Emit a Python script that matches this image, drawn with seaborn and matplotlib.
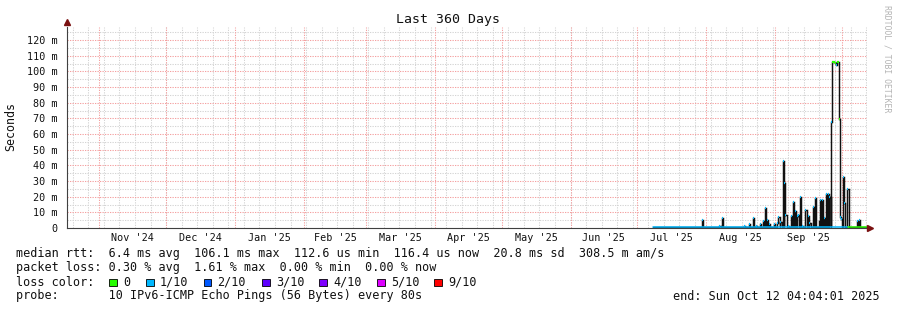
import numpy as np
import pandas as pd
import matplotlib
matplotlib.use("Agg")
import matplotlib.pyplot as plt
import matplotlib.dates as mdates
from matplotlib.patches import Rectangle
import seaborn as sns

# ---------------- data ----------------
period_start = "2024-10-17 04:04:01"
period_end = "2025-10-12 04:04:01"
data_start = "2025-07-08 04:00"
baseline_rtt_ms = 0.35

spike_times = [
    "2025-07-30 01:30", "2025-08-06 22:00", "2025-08-08 02:00", "2025-08-18 02:00",
    "2025-08-20 08:00", "2025-08-22 00:00", "2025-08-23 12:00", "2025-08-25 07:00",
    "2025-08-26 12:00", "2025-08-27 10:00", "2025-08-28 11:00", "2025-08-29 08:00",
    "2025-08-31 14:00", "2025-09-01 23:00", "2025-09-02 12:00", "2025-09-03 10:00",
    "2025-09-04 12:00", "2025-09-05 05:00", "2025-09-05 15:00", "2025-09-06 17:00",
    "2025-09-08 06:00", "2025-09-09 00:00", "2025-09-10 01:00", "2025-09-10 19:00",
    "2025-09-11 07:00", "2025-09-12 06:00", "2025-09-13 05:00", "2025-09-14 17:00",
    "2025-09-15 19:00", "2025-09-16 12:00", "2025-09-18 01:00", "2025-09-19 02:00",
    "2025-09-20 14:00", "2025-09-21 07:00", "2025-09-22 05:00", "2025-09-23 00:00",
    "2025-09-24 00:00", "2025-09-24 19:00", "2025-09-25 12:00", "2025-09-26 10:00",
    "2025-09-26 16:00", "2025-09-27 04:00", "2025-09-27 16:00", "2025-09-28 04:00",
    "2025-09-28 14:00", "2025-09-28 22:00", "2025-09-29 07:00", "2025-09-29 15:00",
    "2025-09-30 02:00", "2025-09-30 14:00", "2025-10-01 13:00", "2025-10-02 03:00",
    "2025-10-03 12:00", "2025-10-07 23:00", "2025-10-08 20:00",
]
spike_rtt_ms = [
    5.0, 1.0, 6.6, 1.2,
    2.8, 6.2, 1.5, 2.5,
    4.6, 12.8, 5.0, 2.6,
    2.6, 3.5, 7.1, 4.0,
    42.5, 28.5, 8.3, 1.0,
    7.4, 16.8, 10.9, 7.4,
    8.3, 20.0, 1.5, 11.5,
    7.4, 3.5, 13.6, 19.4,
    4.2, 17.9, 17.9, 6.2,
    22.0, 22.0, 20.0, 67.4,
    106.0, 106.0, 106.0, 105.5,
    104.0, 106.0, 106.0, 69.6,
    7.2, 6.0, 32.8, 16.0,
    24.7, 4.5, 5.3,
]
spike_loss = [
    1, 1, 1, 1,
    1, 1, 1, 1,
    1, 1, 1, 1,
    1, 1, 1, 1,
    1, 1, 1, 1,
    1, 1, 1, 1,
    1, 1, 1, 1,
    1, 1, 1, 1,
    1, 1, 1, 1,
    1, 1, 1, 1,
    0, 0, 0, 0,
    1, 0, 0, 0,
    1, 1, 1, 1,
    1, 1, 1,
]
baseline_seg_starts = ["2025-07-08 04:00", "2025-10-03 20:00"]
baseline_seg_loss = [1, 0]

loss_labels = ["0", "1/10", "2/10", "3/10", "4/10", "5/10", "9/10"]
loss_colors = ["#26ff00", "#00b8ff", "#0059ff", "#5e00ff", "#7e00ff", "#dd00ff", "#ff0000"]

y_ticks_ms = [0, 10, 20, 30, 40, 50, 60, 70, 80, 90, 100, 110, 120]
y_tick_labels = ["0", "10 m", "20 m", "30 m", "40 m", "50 m", "60 m", "70 m",
                 "80 m", "90 m", "100 m", "110 m", "120 m"]
month_labels = ["Nov '24", "Dec '24", "Jan '25", "Feb '25", "Mar '25", "Apr '25",
                "May '25", "Jun '25", "Jul '25", "Aug '25", "Sep '25"]

title = "Last 360 Days"
y_label = "Seconds"
stats_rtt = "median rtt:  6.4 ms avg  106.1 ms max  112.6 us min  116.4 us now  20.8 ms sd  308.5 m am/s"
stats_loss = "packet loss: 0.30 % avg  1.61 % max  0.00 % min  0.00 % now"
probe_text = "probe:       10 IPv6-ICMP Echo Pings (56 Bytes) every 80s"
end_text = "end: Sun Oct 12 04:04:01 2025"
watermark = "RRDTOOL / TOBI OETIKER"

# ---------------- style ----------------
sns.set_style("white")
plt.rcParams["font.family"] = ["DejaVu Sans Mono", "DejaVu Sans"]

W, H = 897, 310
fig = plt.figure(figsize=(W / 100, H / 100), dpi=100)
fx = lambda px: px / W
fy = lambda py: 1 - py / H

ax_l, ax_r, ax_t, ax_b = 66.5, 866.5, 27, 228
ax = fig.add_axes([fx(ax_l), fy(ax_b), fx(ax_r - ax_l), (ax_b - ax_t) / H])

t0 = pd.Timestamp(period_start)
t1 = pd.Timestamp(period_end)
ax.set_xlim(mdates.date2num(t0), mdates.date2num(t1))
ax.set_ylim(0, 128.3)

# grid
grid_minor = "#d4d4d4"
grid_major = "#f4a0a0"
dots = (0, (1.2, 1.2))
weeks = pd.date_range("2024-10-20", t1, freq="7D")
months = pd.date_range("2024-11-01", "2025-10-01", freq="MS")
for wk in weeks:
    ax.axvline(mdates.date2num(wk), color=grid_minor, lw=0.75, ls=dots, zorder=0)
for y in np.arange(5, 128, 5):
    if y % 10:
        ax.axhline(y, color=grid_minor, lw=0.75, ls=dots, zorder=0)
for m in months:
    ax.axvline(mdates.date2num(m), color=grid_major, lw=0.75, ls=dots, zorder=0.5)
for y in y_ticks_ms[1:]:
    ax.axhline(y, color=grid_major, lw=0.75, ls=dots, zorder=0.5)

# smoke / rtt envelope drawn as a step line
st = pd.to_datetime(spike_times)
w = pd.Timedelta(hours=14)
xs = [pd.Timestamp(data_start)]
ys = [baseline_rtt_ms]
for i, (ti, vi) in enumerate(zip(st, spike_rtt_ms)):
    xs.append(ti)
    ys.append(vi)
    te = ti + w
    if i + 1 < len(st) and te >= st[i + 1]:
        continue
    xs.append(te)
    ys.append(baseline_rtt_ms)
xs.append(t1)
ys.append(baseline_rtt_ms)
xn = mdates.date2num(pd.to_datetime(xs))
ax.plot(xn, ys, drawstyle="steps-post", color="#111111", lw=1.05, zorder=2,
        solid_joinstyle="miter")

# median line at baseline, coloured by loss
seg_bounds = list(pd.to_datetime(baseline_seg_starts)) + [t1]
for k, loss in enumerate(baseline_seg_loss):
    seg = pd.DataFrame({"t": mdates.date2num([seg_bounds[k], seg_bounds[k + 1]]),
                        "rtt": [baseline_rtt_ms, baseline_rtt_ms]})
    sns.lineplot(data=seg, x="t", y="rtt", color=loss_colors[loss], lw=1.1,
                 ax=ax, zorder=3, drawstyle="steps-post")

# median caps at spike tops
cap = pd.Timedelta(hours=10)
ax.hlines(spike_rtt_ms, mdates.date2num(st), mdates.date2num(st + cap),
          colors=[loss_colors[l] for l in spike_loss], lw=1.6, zorder=4)

# axes styling
for s in ["top", "right"]:
    ax.spines[s].set_visible(False)
for s in ["left", "bottom"]:
    ax.spines[s].set_color("#404040")
    ax.spines[s].set_linewidth(0.8)
    ax.spines[s].set_zorder(5)
ax.set_yticks(y_ticks_ms)
ax.set_yticklabels(y_tick_labels, fontsize=7.3, color="#111111")
ax.tick_params(axis="y", length=2, width=0.8, pad=4.5, color="#404040")
ax.set_xticks(mdates.date2num(months))
ax.set_xticklabels([])
ax.tick_params(axis="x", length=2, width=0.8, color="#404040")
ax.set_xlabel("")
ax.set_ylabel("")
ax.grid(False)

mid = mdates.date2num(months[:-1]) + np.diff(mdates.date2num(months)) / 2
for xm, lab in zip(mid, month_labels):
    ax.text(xm, -10.0 / 1.5667, lab, ha="center", va="center", fontsize=7.3,
            color="#111111", clip_on=False)

# arrows
ax.plot([0], [1.025], marker="^", color="#7a1010", ms=4, transform=ax.transAxes,
        clip_on=False, zorder=6)
ax.plot([1.004], [0], marker=">", color="#7a1010", ms=4, transform=ax.transAxes,
        clip_on=False, zorder=6)

# titles
fig.text(fx(447.5), fy(19), title, ha="center", va="center", fontsize=9.5, color="#111111")
fig.text(fx(11), fy(126.5), y_label, ha="center", va="center", rotation=90,
         fontsize=8.4, color="#111111")
fig.text(fx(887), fy(5), watermark, ha="center", va="top", rotation=270,
         fontsize=5.9, color="#b4b4b4")

# legend block
fs = 8.5
fig.text(fx(16), fy(254), stats_rtt, ha="left", va="center", fontsize=fs, color="#111111")
fig.text(fx(16), fy(268), stats_loss, ha="left", va="center", fontsize=fs, color="#111111")
fig.text(fx(16), fy(282), "loss color:", ha="left", va="center", fontsize=fs, color="#111111")
sq_x = [109, 146, 203.5, 262, 319, 377, 434]
for xq, lab, col in zip(sq_x, loss_labels, loss_colors):
    fig.patches.append(Rectangle((fx(xq), fy(286)), 7.5 / W, 7.5 / H,
                                 transform=fig.transFigure, facecolor=col,
                                 edgecolor="black", lw=0.6))
    fig.text(fx(xq + 14), fy(282), lab, ha="left", va="center", fontsize=fs, color="#111111")
fig.text(fx(16), fy(296), probe_text, ha="left", va="center", fontsize=fs, color="#111111")
fig.text(fx(880), fy(296), end_text, ha="right", va="center", fontsize=fs, color="#111111")

fig.savefig("out.png", dpi=100, facecolor="white")
